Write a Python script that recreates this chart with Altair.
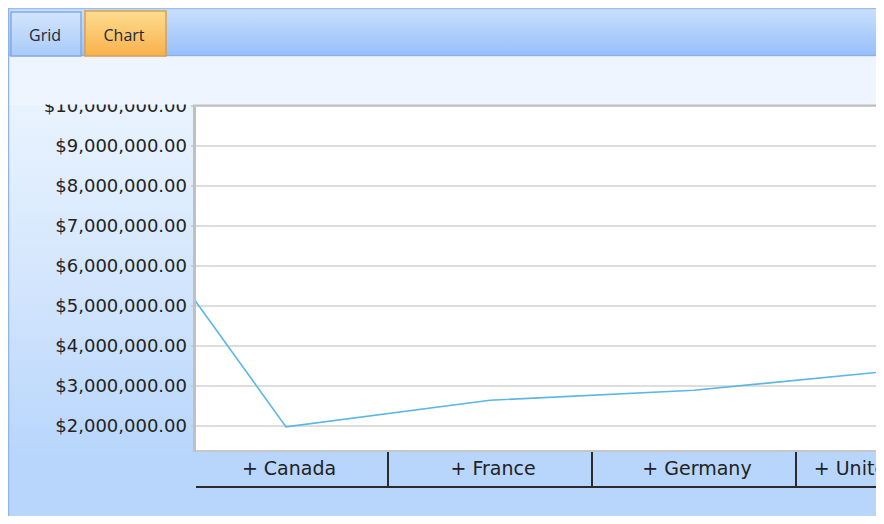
import altair as alt
import pandas as pd

# ---- data ----
countries = ["Australia", "Canada", "France", "Germany", "United Kingdom"]
sales = [9061000, 1977800, 2644000, 2894300, 3391700]
y_ticks = [2000000, 3000000, 4000000, 5000000, 6000000,
           7000000, 8000000, 9000000, 10000000]
tab_names = ["Grid", "Chart"]

df = pd.DataFrame({"country": countries,
                   "idx": list(range(len(countries))),
                   "sales": sales})
df["label"] = "+ " + df["country"]
bounds = pd.DataFrame({"b": [i + 0.5 for i in range(1, len(countries) - 1)]})
ticks_df = pd.DataFrame({"v": y_ticks})

W, H = 680, 345
xscale = alt.Scale(domain=[0.5588, 3.8922], nice=False, zero=False)
yscale = alt.Scale(domain=[1375000, 10000000], nice=False, zero=False)
one = alt.Data(values=[{"a": 1}])


def grad(stops):
    return alt.LinearGradient(
        gradient="linear",
        stops=[alt.GradientStop(color=c, offset=o) for o, c in stops],
        x1=0, x2=0, y1=0, y2=1)


def box(x0, x1, y0, y1, **mk):
    return alt.Chart(one).mark_rect(**mk).encode(
        x=alt.value(x0), x2=alt.value(x1), y=alt.value(y0), y2=alt.value(y1))


def hrule(x0, x1, y, **mk):
    return alt.Chart(one).mark_rule(**mk).encode(
        x=alt.value(x0), x2=alt.value(x1), y=alt.value(y))


def vrule(x, y0, y1, **mk):
    return alt.Chart(one).mark_rule(**mk).encode(
        x=alt.value(x), y=alt.value(y0), y2=alt.value(y1))


# background of the chart panel
bg = box(-188, W, -1.5, 410,
         fill=grad([(0, "#e9f3fe"), (0.45, "#d2e5fd"), (0.85, "#b8d6fc"), (1, "#b8d6fc")]))

# y labels (drawn before the top panel so the top one is cut)
ylabels = alt.Chart(ticks_df).mark_text(
    align="right", baseline="middle", font="DejaVu Sans", fontSize=18,
    color="#222222", dy=1).encode(
    x=alt.value(-9),
    y=alt.Y("v:Q", scale=yscale, axis=None),
    text=alt.Text("v:Q", format="$,.2f"))

top_panel = box(-188, W, -49.5, -1.5, fill="#eef5fe")
header = box(-188, W, -97, -51, fill=grad([(0, "#c9dffd"), (1, "#97c0fb")]))
header_top = hrule(-188, W, -97.5, color="#9fbdec", strokeWidth=1.5)
header_bot = hrule(-188, W, -50.5, color="#8cb0e6", strokeWidth=1.5)
outer_left = vrule(-187.5, -98, 410, color="#8fb3ea", strokeWidth=1.5)

tab_grid = box(-185, -115, -94, -50,
               fill=grad([(0, "#d3e5fd"), (1, "#a8cbf9")]),
               stroke="#84aae2", strokeWidth=1.5)
tab_chart = box(-111, -30, -95, -50,
                fill=grad([(0, "#fedd90"), (1, "#f8b04c")]),
                stroke="#dba050", strokeWidth=1.5)
txt_grid = alt.Chart(one).mark_text(
    text=tab_names[0], font="Open Sans", fontSize=16, color="#1c2838",
    baseline="middle").encode(x=alt.value(-151), y=alt.value(-70))
txt_chart = alt.Chart(one).mark_text(
    text=tab_names[1], font="Open Sans", fontSize=16, color="#1c2838",
    baseline="middle").encode(x=alt.value(-72), y=alt.value(-70))

plot_bg = box(0, W, 0, H, fill="white")

grid = alt.Chart(ticks_df).mark_rule(color="#d2d2d2", strokeWidth=1.5).encode(
    x=alt.value(0), x2=alt.value(W),
    y=alt.Y("v:Q", scale=yscale, axis=None))
stubs = alt.Chart(ticks_df).mark_rule(color="#c4c4c4", strokeWidth=1.5).encode(
    x=alt.value(-5), x2=alt.value(-1),
    y=alt.Y("v:Q", scale=yscale, axis=None))

line = alt.Chart(df).mark_line(color="#5cb6e6", strokeWidth=1.6, clip=True).encode(
    x=alt.X("idx:Q", scale=xscale, axis=None),
    y=alt.Y("sales:Q", scale=yscale, axis=None))

border_top = hrule(0, W, -0.5, color="#bdbdbd", strokeWidth=2)
border_left = vrule(-1.5, -1.5, H + 1, color="#c0c0c0", strokeWidth=3)
border_bot = hrule(0, W, H, color="#c6c6c6", strokeWidth=2)

seps = alt.Chart(bounds).mark_rule(color="#2b2b2b", strokeWidth=2).encode(
    x=alt.X("b:Q", scale=xscale, axis=None),
    y=alt.value(H + 1), y2=alt.value(381))
cat_line = hrule(0, W, 381, color="#2b2b2b", strokeWidth=2)
cat_labels = alt.Chart(df).transform_filter("datum.idx >= 1").mark_text(
    font="DejaVu Sans", fontSize=19, color="#222222", baseline="middle",
    dx=3).encode(
    x=alt.X("idx:Q", scale=xscale, axis=None),
    y=alt.value(363),
    text="label:N")

chart = alt.layer(
    bg, ylabels, top_panel, header, header_top, header_bot, outer_left,
    tab_grid, tab_chart, txt_grid, txt_chart,
    plot_bg, grid, stubs, line, border_top, border_left, border_bot,
    seps, cat_line, cat_labels
).properties(
    width=W, height=H,
    padding={"left": 188, "top": 98, "right": 0, "bottom": 65},
    autosize=alt.AutoSizeParams(type="none"),
    background="white"
).configure_view(stroke="transparent", fill="transparent")

chart.save("out.html", embed_options={"renderer": "svg", "actions": False})
